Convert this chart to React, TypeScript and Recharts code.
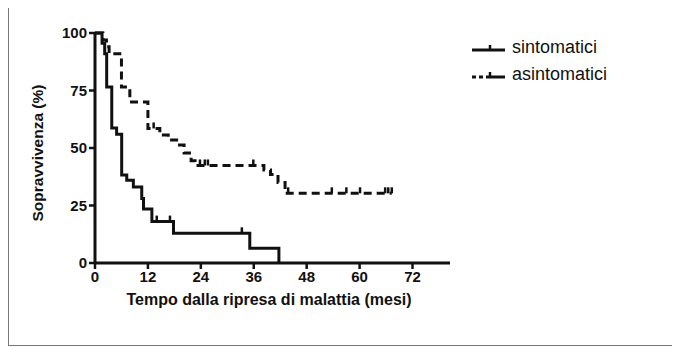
import { LineChart, Line, XAxis, YAxis, Label } from 'recharts'

// Kaplan-Meier steps (months, % survival)
const sintTimes = [0, 1.6, 2.2, 2.65, 3.8, 4.9, 6.05, 7.2, 8.7, 10.6, 11.0, 12.9, 17.8, 35.1, 41.7]
const sintSurv = [100, 95.5, 91, 76.5, 58.7, 56, 38.3, 36, 33, 28, 23.5, 18, 12.9, 6.4, 0]
const sintCensored = [14.0, 17.0, 33.3]

const asintTimes = [0, 1.8, 2.6, 3.2, 6.0, 7.9, 12.0, 14.7, 16.6, 18.5, 20.2, 21.8, 22.7, 38.3, 39.8, 41.5, 43.1]
const asintSurv = [100, 97, 94, 91, 76.5, 70, 58.5, 55.6, 53.5, 51.3, 47.8, 44.5, 42.4, 40.4, 38.5, 35, 30.3]
const asintCensored = [13.3, 23.8, 24.9, 25.6, 35.9, 43.8, 53.7, 57, 60.1, 65.8, 66.5, 67.3]

const xTicks = [0, 12, 24, 36, 48, 60, 72]
const yTicks = [0, 25, 50, 75, 100]

const FONT = '"Liberation Sans", Arial, Helvetica, sans-serif'
const INK = '#111'

interface KmPoint {
  t: number
  s: number
  c: boolean
}

// survival value at time t for a step curve (stepAfter)
function survAt(times: number[], surv: number[], t: number) {
  let v = surv[0]
  for (let i = 0; i < times.length; i++) if (times[i] <= t) v = surv[i]
  return v
}

function buildCurve(times: number[], surv: number[], censored: number[]): KmPoint[] {
  const pts: KmPoint[] = times.map((t, i) => ({ t, s: surv[i], c: false }))
  censored.forEach((t) => pts.push({ t, s: survAt(times, surv, t), c: true }))
  return pts.sort((a, b) => a.t - b.t)
}

const sintData = buildCurve(sintTimes, sintSurv, sintCensored)
const asintData = buildCurve(asintTimes, asintSurv, asintCensored)

function CensorMark(props: any) {
  const { cx, cy, payload, index } = props
  if (!payload?.c || cx == null) return <g key={`n${index}`} />
  return (
    <line key={`c${index}`} x1={cx} x2={cx} y1={cy - 6} y2={cy} stroke={INK} strokeWidth={2.5} />
  )
}

function KmLegend() {
  const row = { display: 'flex', alignItems: 'center', height: 27 } as const
  const txt = { fontFamily: FONT, fontSize: 18, color: INK, marginLeft: 6 }
  return (
    <div style={{ position: 'absolute', left: 463, top: 26 }}>
      <div style={row}>
        <svg width={34} height={12}>
          <line x1={0} x2={33} y1={8} y2={8} stroke={INK} strokeWidth={3} />
          <line x1={18} x2={18} y1={3} y2={8} stroke={INK} strokeWidth={2.5} />
        </svg>
        <span style={txt}>sintomatici</span>
      </div>
      <div style={row}>
        <svg width={34} height={12}>
          <line x1={0} x2={33} y1={8} y2={8} stroke={INK} strokeWidth={3} strokeDasharray="4 3 4 3 40" />
          <line x1={18} x2={18} y1={3} y2={8} stroke={INK} strokeWidth={2.5} />
        </svg>
        <span style={txt}>asintomatici</span>
      </div>
    </div>
  )
}

export default function App() {
  return (
    <div
      style={{
        position: 'relative',
        marginTop: -1,
        width: 668,
        height: 339,
        border: '1px solid #777',
        boxSizing: 'border-box',
        background: '#fff',
      }}
    >
      <LineChart width={666} height={337} margin={{ top: 25, right: 225, bottom: 52, left: 26 }}>
        <XAxis
          type="number"
          dataKey="t"
          domain={[0, 80.5]}
          ticks={xTicks}
          allowDataOverflow
          height={30}
          axisLine={{ stroke: INK, strokeWidth: 3 }}
          tickLine={{ stroke: INK, strokeWidth: 2.5 }}
          tickSize={6}
          tickMargin={2}
          tick={{ fill: INK, fontSize: 15, fontWeight: 'bold', fontFamily: FONT }}
        >
          <Label
            content={() => (
              <text
                x={260}
                y={297}
                textAnchor="middle"
                fill={INK}
                style={{ fontFamily: FONT, fontSize: 16, fontWeight: 'bold' }}
              >
                Tempo dalla ripresa di malattia (mesi)
              </text>
            )}
          />
        </XAxis>
        <YAxis
          type="number"
          domain={[0, 100]}
          ticks={yTicks}
          width={60}
          axisLine={{ stroke: INK, strokeWidth: 3 }}
          tickLine={{ stroke: INK, strokeWidth: 2.5 }}
          tickSize={6}
          tickMargin={2}
          tick={{ fill: INK, fontSize: 15, fontWeight: 'bold', fontFamily: FONT }}
        >
          <Label
            content={() => (
              <text
                x={34}
                y={145}
                transform="rotate(-90 34 145)"
                textAnchor="middle"
                fill={INK}
                style={{ fontFamily: FONT, fontSize: 15.5, fontWeight: 'bold' }}
              >
                Sopravvivenza (%)
              </text>
            )}
          />
        </YAxis>
        <Line
          data={sintData}
          dataKey="s"
          type="stepAfter"
          stroke={INK}
          strokeWidth={3}
          dot={CensorMark}
          activeDot={false}
          isAnimationActive={false}
        />
        <Line
          data={asintData}
          dataKey="s"
          type="stepAfter"
          stroke={INK}
          strokeWidth={3}
          strokeDasharray="8 5"
          dot={CensorMark}
          activeDot={false}
          isAnimationActive={false}
        />
      </LineChart>
      <KmLegend />
    </div>
  )
}
